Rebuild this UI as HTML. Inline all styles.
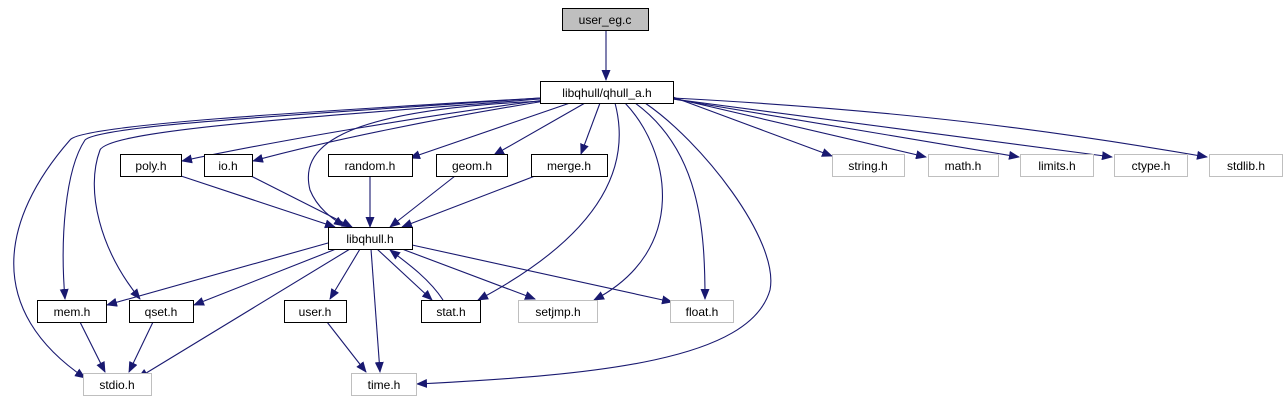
<!DOCTYPE html>
<html><head><meta charset="utf-8"><style>
body{margin:0;background:#fff;}
svg{display:block;}
text{font-family:"Liberation Sans",sans-serif;font-size:12px;text-anchor:middle;}
</style></head><body>
<svg width="1286" height="411" viewBox="0 0 1286 411" xmlns="http://www.w3.org/2000/svg">
<defs><marker id="a" markerWidth="11" markerHeight="9" refX="10" refY="4.5" orient="auto" markerUnits="userSpaceOnUse"><path d="M0,0 L11,4.5 L0,9 Z" fill="#191970"/></marker></defs>
<g fill="none" stroke="#191970" stroke-width="1.1" marker-end="url(#a)">
<path d="M606,30 L606,80"/>
<path d="M545,100 C430,115 280,140 182,161"/>
<path d="M545,101 C440,118 330,140 253,161"/>
<path d="M570,103 L410,158"/>
<path d="M585,103 L494,155"/>
<path d="M600,103 L581,154"/>
<path d="M545,101 C330,110 300,150 310,190 C318,210 335,220 344,226"/>
<path d="M615,103 C630,160 610,230 478,300"/>
<path d="M625,103 C670,150 690,250 594,300"/>
<path d="M635,103 C700,150 705,230 705,299"/>
<path d="M645,103 C700,140 780,240 770,290 C750,360 600,375 417,384"/>
<path d="M540,98 C300,115 100,125 85,140 C65,170 60,240 65,299"/>
<path d="M540,99 C300,118 110,130 100,150 C85,190 100,250 140,299"/>
<path d="M540,98 C300,112 80,125 70,140 C0,220 -15,310 85,378"/>
<path d="M673,97 L832,156"/>
<path d="M673,98 L926,157"/>
<path d="M673,99 L1019,157"/>
<path d="M673,99 L1112,157"/>
<path d="M673,98 C900,110 1050,130 1207,157"/>
<path d="M181,176 L335,227"/>
<path d="M251,176 L352,227"/>
<path d="M370,176 L370,227"/>
<path d="M455,176 L390,227"/>
<path d="M535,176 L402,227"/>
<path d="M328,243 L107,305"/>
<path d="M336,249 L194,305"/>
<path d="M350,249 L138,378"/>
<path d="M360,249 L330,299"/>
<path d="M371,249 L380,372"/>
<path d="M377,249 L432,300"/>
<path d="M402,249 L535,299"/>
<path d="M412,245 L672,302"/>
<path d="M443,300 C430,280 410,265 390,250"/>
<path d="M80,322 L105,372"/>
<path d="M153,322 L129,372"/>
<path d="M327,322 L366,372"/>
</g>
<g stroke-width="1">
<rect x="562.5" y="8.5" width="86" height="22" fill="#bfbfbf" stroke="#000"/>
<rect x="540.5" y="81.5" width="133" height="22" fill="#fff" stroke="#000"/>
<rect x="120.5" y="154.5" width="61" height="22" fill="#fff" stroke="#000"/>
<rect x="204.5" y="154.5" width="48" height="22" fill="#fff" stroke="#000"/>
<rect x="328.5" y="154.5" width="84" height="22" fill="#fff" stroke="#000"/>
<rect x="436.5" y="154.5" width="71" height="22" fill="#fff" stroke="#000"/>
<rect x="531.5" y="154.5" width="76" height="22" fill="#fff" stroke="#000"/>
<rect x="832.5" y="154.5" width="72" height="22" fill="#fff" stroke="#bfbfbf"/>
<rect x="928.5" y="154.5" width="70" height="22" fill="#fff" stroke="#bfbfbf"/>
<rect x="1020.5" y="154.5" width="73" height="22" fill="#fff" stroke="#bfbfbf"/>
<rect x="1114.5" y="154.5" width="73" height="22" fill="#fff" stroke="#bfbfbf"/>
<rect x="1209.5" y="154.5" width="73" height="22" fill="#fff" stroke="#bfbfbf"/>
<rect x="328.5" y="227.5" width="84" height="22" fill="#fff" stroke="#000"/>
<rect x="37.5" y="300.5" width="69" height="22" fill="#fff" stroke="#000"/>
<rect x="129.5" y="300.5" width="64" height="22" fill="#fff" stroke="#000"/>
<rect x="284.5" y="300.5" width="62" height="22" fill="#fff" stroke="#000"/>
<rect x="421.5" y="300.5" width="59" height="22" fill="#fff" stroke="#000"/>
<rect x="518.5" y="300.5" width="79" height="22" fill="#fff" stroke="#bfbfbf"/>
<rect x="670.5" y="300.5" width="63" height="22" fill="#fff" stroke="#bfbfbf"/>
<rect x="83.5" y="373.5" width="68" height="22" fill="#fff" stroke="#bfbfbf"/>
<rect x="351.5" y="373.5" width="65" height="22" fill="#fff" stroke="#bfbfbf"/>
</g>
<g fill="#000">
<text x="605" y="24">user_eg.c</text>
<text x="607" y="97">libqhull/qhull_a.h</text>
<text x="151" y="170">poly.h</text>
<text x="228" y="170">io.h</text>
<text x="370" y="170">random.h</text>
<text x="472" y="170">geom.h</text>
<text x="569" y="170">merge.h</text>
<text x="868" y="170">string.h</text>
<text x="963" y="170">math.h</text>
<text x="1057" y="170">limits.h</text>
<text x="1151" y="170">ctype.h</text>
<text x="1246" y="170">stdlib.h</text>
<text x="370" y="243">libqhull.h</text>
<text x="72" y="316">mem.h</text>
<text x="161" y="316">qset.h</text>
<text x="315" y="316">user.h</text>
<text x="451" y="316">stat.h</text>
<text x="558" y="316">setjmp.h</text>
<text x="702" y="316">float.h</text>
<text x="117" y="389">stdio.h</text>
<text x="384" y="389">time.h</text>
</g>
</svg>
</body></html>
